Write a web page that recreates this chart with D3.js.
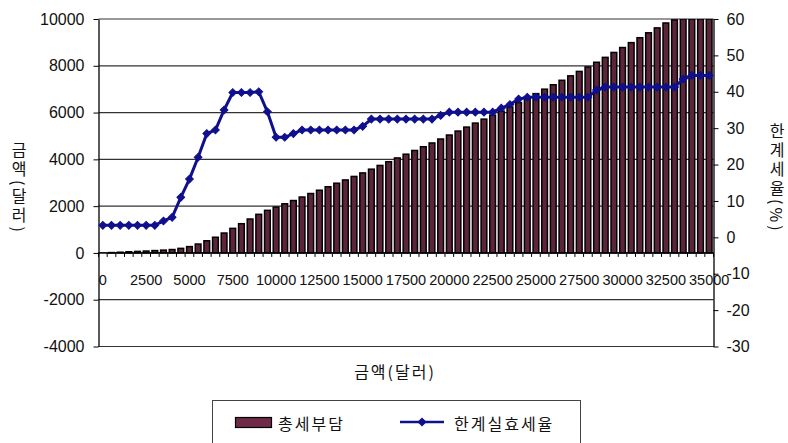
<!DOCTYPE html>
<html>
<head>
<meta charset="utf-8">
<script src="https://cdn.jsdelivr.net/npm/d3@7"></script>
<style>
  body { margin: 0; background: #fff; }
  svg { display: block; }
  text { font-family: "Liberation Sans", Arial, "Noto Sans CJK KR", sans-serif; fill: #111; }
  .kr { font-family: "Noto Sans CJK KR", "Liberation Sans", sans-serif; letter-spacing: 2px; }
  .vtitle {
    width: 100%; height: 100%;
    display: flex; align-items: center; justify-content: center;
  }
  .vtitle span {
    writing-mode: vertical-rl;
    text-orientation: mixed;
    font-family: "Noto Sans CJK KR", "Liberation Sans", sans-serif;
    font-size: 16px;
    line-height: 1;
    letter-spacing: 3px;
    color: #111;
  }
</style>
</head>
<body>
<svg id="chart" width="788" height="443"></svg>
<script>
// Income levels (dollars), one bar and one line point per level
const incomes = [
  0, 500, 1000, 1500, 2000, 2500, 3000, 3500, 4000, 4500,
  5000, 5500, 6000, 6500, 7000, 7500, 8000, 8500, 9000, 9500,
  10000, 10500, 11000, 11500, 12000, 12500, 13000, 13500, 14000, 14500,
  15000, 15500, 16000, 16500, 17000, 17500, 18000, 18500, 19000, 19500,
  20000, 20500, 21000, 21500, 22000, 22500, 23000, 23500, 24000, 24500,
  25000, 25500, 26000, 26500, 27000, 27500, 28000, 28500, 29000, 29500,
  30000, 30500, 31000, 31500, 32000, 32500, 33000, 33500, 34000, 34500,
  35000
];

// Total tax burden (dollars)
const totalTax = [
  0, 15, 30, 50, 65, 80, 100, 120, 145, 195,
  270, 380, 520, 670, 850, 1050, 1250, 1450, 1650, 1820,
  1960, 2100, 2240, 2390, 2540, 2680, 2830, 2980, 3120, 3270,
  3420, 3580, 3740, 3900, 4060, 4220, 4380, 4540, 4700, 4870,
  5040, 5210, 5380, 5550, 5720, 5890, 6060, 6240, 6430, 6620,
  6810, 7000, 7190, 7380, 7570, 7760, 7950, 8150, 8360, 8570,
  8780, 8990, 9200, 9410, 9620, 9830, 9960, 10000, 10000, 10000,
  10000
];

// Marginal effective tax rate (%)
const marginalRate = [
  3.3, 3.3, 3.3, 3.3, 3.3, 3.3, 3.3, 4.5, 5.5, 11,
  16, 22, 28.5, 29.5, 35, 39.8, 39.8, 39.8, 40, 34.5,
  27.5, 27.5, 28.5, 29.5, 29.5, 29.5, 29.5, 29.5, 29.5, 29.5,
  30.5, 32.5, 32.5, 32.5, 32.5, 32.5, 32.5, 32.5, 32.5, 33.5,
  34.4, 34.4, 34.4, 34.4, 34.4, 34.4, 35.5, 36.5, 38, 38.5,
  38.5, 38.5, 38.5, 38.5, 38.5, 38.5, 38.5, 40.5, 41.3, 41.3,
  41.3, 41.3, 41.3, 41.3, 41.3, 41.3, 41.3, 43.5, 44.5, 44.5,
  44.5
];

const xTickValues = [0, 2500, 5000, 7500, 10000, 12500, 15000, 17500, 20000, 22500, 25000, 27500, 30000, 32500, 35000];
const xTickLabels = ["0", "2500", "5000", "7500", "10000", "12500", "15000", "17500", "20000", "22500", "25000", "27500", "30000", "32500", "35000"];
const leftTicks = [10000, 8000, 6000, 4000, 2000, 0, -2000, -4000];
const leftTickLabels = ["10000", "8000", "6000", "4000", "2000", "0", "-2000", "-4000"];
const rightTicks = [60, 50, 40, 30, 20, 10, 0, -10, -20, -30];
const rightTickLabels = ["60", "50", "40", "30", "20", "10", "0", "-10", "-20", "-30"];

const barName = "총세부담";
const lineName = "한계실효세율";
const xTitle = "금액(달러)";
const yLeftTitle = "금액(달러)";
const yRightTitle = "한계세율(%)";

const barFill = "#5e243c";
const lineColor = "#10108e";

const svg = d3.select("#chart");
const plot = { left: 98.5, right: 713.5, top: 19, bottom: 346.5 };

const x = d3.scaleBand()
  .domain(incomes)
  .range([plot.left, plot.right])
  .paddingInner(0.34)
  .paddingOuter(0.17);
const yL = d3.scaleLinear().domain([-4000, 10000]).range([plot.bottom, plot.top]);
const yR = d3.scaleLinear().domain([-30, 60]).range([plot.bottom, plot.top]);

svg.append("defs").append("clipPath").attr("id", "plotClip")
  .append("rect")
  .attr("x", plot.left).attr("y", plot.top)
  .attr("width", plot.right - plot.left).attr("height", plot.bottom - plot.top);

// Horizontal gridlines
svg.append("g").selectAll("line")
  .data(leftTicks)
  .join("line")
  .attr("x1", plot.left).attr("x2", plot.right)
  .attr("y1", d => yL(d)).attr("y2", d => yL(d))
  .attr("stroke", "#333").attr("stroke-width", 1.2);

// Bars: total tax burden
svg.append("g").attr("clip-path", "url(#plotClip)")
  .selectAll("rect")
  .data(incomes.map((inc, i) => ({ inc, v: totalTax[i] })))
  .join("rect")
  .attr("x", d => x(d.inc))
  .attr("width", x.bandwidth())
  .attr("y", d => yL(Math.max(0, d.v)))
  .attr("height", d => Math.abs(yL(d.v) - yL(0)))
  .attr("fill", barFill)
  .attr("stroke", "#000")
  .attr("stroke-width", 1.5);

// Category axis along zero
const zeroY = yL(0);
svg.append("line")
  .attr("x1", plot.left).attr("x2", plot.right)
  .attr("y1", zeroY).attr("y2", zeroY)
  .attr("stroke", "#000").attr("stroke-width", 1.3);

svg.append("g").selectAll("line")
  .data(d3.range(incomes.length + 1))
  .join("line")
  .attr("x1", i => plot.left + i * x.step())
  .attr("x2", i => plot.left + i * x.step())
  .attr("y1", zeroY).attr("y2", zeroY + 4)
  .attr("stroke", "#000").attr("stroke-width", 1);

const xAxis = d3.axisBottom(x)
  .tickValues(xTickValues)
  .tickFormat((d, i) => xTickLabels[i])
  .tickSize(0)
  .tickPadding(22);
svg.append("g")
  .attr("transform", `translate(0,${zeroY})`)
  .call(xAxis)
  .call(g => g.select(".domain").remove())
  .call(g => g.selectAll("text").attr("font-size", 14.5).attr("font-family", null).attr("fill", "#111"));

// Left value axis
svg.append("g")
  .attr("transform", `translate(${plot.left},0)`)
  .call(d3.axisLeft(yL).tickValues(leftTicks).tickFormat((d, i) => leftTickLabels[i])
    .tickSize(5).tickSizeOuter(0).tickPadding(9))
  .call(g => g.select(".domain").attr("stroke", "#000").attr("stroke-width", 1.3))
  .call(g => g.selectAll(".tick line").attr("stroke", "#000"))
  .call(g => g.selectAll("text").attr("font-size", 16).attr("font-family", null).attr("fill", "#111"));

// Right value axis
svg.append("g")
  .attr("transform", `translate(${plot.right},0)`)
  .call(d3.axisRight(yR).tickValues(rightTicks).tickFormat((d, i) => rightTickLabels[i])
    .tickSize(5).tickSizeOuter(0).tickPadding(8))
  .call(g => g.select(".domain").attr("stroke", "#000").attr("stroke-width", 1.3))
  .call(g => g.selectAll(".tick line").attr("stroke", "#000"))
  .call(g => g.selectAll("text").attr("font-size", 16).attr("font-family", null).attr("fill", "#111"));

// Line: marginal effective rate with diamond markers
const pts = incomes.map((inc, i) => ({ inc, v: marginalRate[i] }));
const cx = d => x(d.inc) + x.bandwidth() / 2;
svg.append("path")
  .datum(pts)
  .attr("fill", "none")
  .attr("stroke", lineColor)
  .attr("stroke-width", 3)
  .attr("d", d3.line().x(cx).y(d => yR(d.v)));

const diamond = d3.symbol(d3.symbolSquare, 30);
svg.append("g").selectAll("path")
  .data(pts)
  .join("path")
  .attr("d", diamond)
  .attr("transform", d => `translate(${cx(d)},${yR(d.v)}) rotate(45)`)
  .attr("fill", lineColor)
  .attr("stroke", lineColor)
  .attr("stroke-width", 1);

// Vertical titles: stacked Hangul, punctuation turned sideways
function verticalTitle(str, cxPos, cyPos) {
  svg.append("foreignObject")
    .attr("x", cxPos - 10).attr("y", cyPos - 75)
    .attr("width", 20).attr("height", 150)
    .append("xhtml:div")
    .attr("class", "vtitle")
    .append("xhtml:span")
    .text(str);
}

// Axis titles
svg.append("text")
  .attr("class", "kr")
  .attr("x", 395).attr("y", 371)
  .attr("text-anchor", "middle").attr("dominant-baseline", "central")
  .attr("font-size", 16)
  .text(xTitle);

verticalTitle(yLeftTitle, 19, 188);
verticalTitle(yRightTitle, 777, 178);

// Legend
const legend = svg.append("g");
legend.append("rect")
  .attr("x", 212.5).attr("y", 400.5)
  .attr("width", 368).attr("height", 60)
  .attr("fill", "#fff").attr("stroke", "#444").attr("stroke-width", 1);
legend.append("rect")
  .attr("x", 235.5).attr("y", 417.5)
  .attr("width", 36).attr("height", 10)
  .attr("fill", "#6e2a46").attr("stroke", "#000").attr("stroke-width", 1.2);
legend.append("text")
  .attr("class", "kr")
  .attr("x", 278).attr("y", 423)
  .attr("dominant-baseline", "central")
  .attr("font-size", 16)
  .text(barName);
legend.append("line")
  .attr("x1", 400).attr("x2", 444)
  .attr("y1", 422).attr("y2", 422)
  .attr("stroke", lineColor).attr("stroke-width", 2.6);
legend.append("path")
  .attr("d", diamond)
  .attr("transform", "translate(422,422) rotate(45)")
  .attr("fill", lineColor).attr("stroke", lineColor);
legend.append("text")
  .attr("class", "kr")
  .attr("x", 454).attr("y", 423)
  .attr("dominant-baseline", "central")
  .attr("font-size", 16)
  .text(lineName);
</script>
</body>
</html>
